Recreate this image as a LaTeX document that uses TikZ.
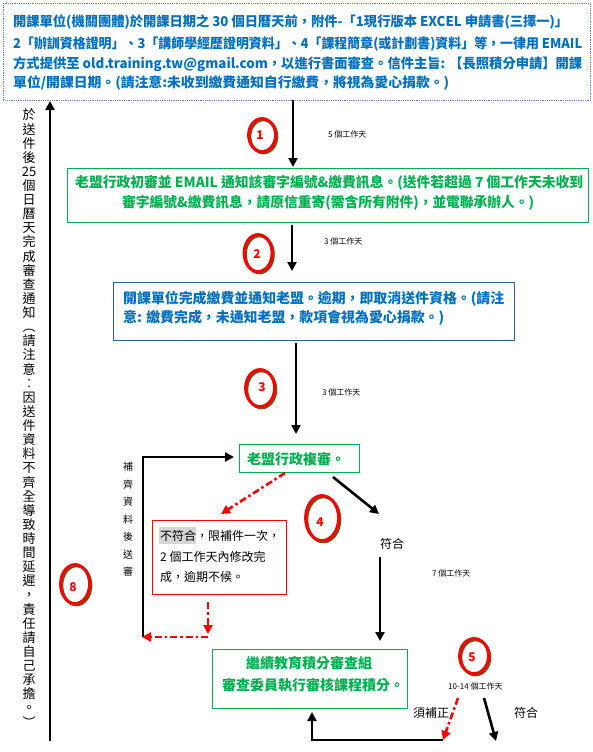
\documentclass[tikz,border=0pt]{standalone}
\usepackage{fontspec}
\usepackage{graphicx}
\setmainfont{Noto Sans CJK TC}
\usetikzlibrary{arrows.meta,shapes.geometric}
\definecolor{tblue}{RGB}{0,112,192}
\definecolor{tgreen}{RGB}{0,176,80}
\definecolor{bblue}{RGB}{56,93,138}
\definecolor{dotblue}{RGB}{95,125,175}
\definecolor{shadowbrown}{RGB}{135,70,25}
\newcommand{\fitw}[2]{\resizebox{#1}{\height}{#2}}
\begin{document}
\begin{tikzpicture}[x=1pt,y=-1pt,
  arr/.style={line width=2.6pt,-{Triangle[length=9pt,width=9pt]}},
  rarr/.style={arr,draw=red,dash pattern=on 7pt off 3pt on 2.5pt off 3pt},
  ring/.style={ellipse,draw=red,line width=2.8pt,inner sep=0pt},
  ringsh/.style={ellipse,draw=shadowbrown,line width=2.8pt,inner sep=0pt},
  num/.style={text=red,font=\fontsize{12}{14}\selectfont\bfseries,inner sep=0pt},
  txt/.style={inner sep=0pt,anchor=west},
  bluetxt/.style={txt,text=tblue,font=\fontsize{13.5}{16}\selectfont\bfseries,text height=11.9pt,text depth=1.6pt},
  greentxt/.style={inner sep=0pt,text=tgreen,font=\fontsize{14}{16}\selectfont\bfseries,text height=12.3pt,text depth=1.7pt},
  blacktxt/.style={txt,font=\fontsize{12}{14}\selectfont,text height=10.6pt,text depth=1.4pt},
  smalltxt/.style={txt,font=\fontsize{8}{10}\selectfont,text height=7pt,text depth=1pt},
  vtxt/.style={inner sep=0pt,font=\fontsize{13}{14}\selectfont,text height=11.4pt,text depth=1.6pt},
  vsmall/.style={inner sep=0pt,font=\fontsize{10}{12}\selectfont,text height=8.8pt,text depth=1.2pt},
  boxnode/.style={anchor=north west,inner sep=0pt,line width=0.8pt}
]
\fill[white] (0,0) rectangle (593,752);
\useasboundingbox (0,0) rectangle (593,752);

% ---------- boxes ----------
\node[boxnode,draw=dotblue,densely dotted,line width=0.7pt,minimum width=587pt,minimum height=97pt] (topbox) at (3,3) {};
\node[boxnode,draw=tgreen,minimum width=521pt,minimum height=54pt] (gbox1) at (67,168) {};
\node[boxnode,draw=bblue,minimum width=401pt,minimum height=58pt] (bbox) at (113,282) {};
\node[boxnode,draw=tgreen,minimum width=120pt,minimum height=28pt] (gbox2) at (239,444) {};
\node[boxnode,draw=red,minimum width=134pt,minimum height=74pt] (rbox) at (152,520) {};
\node[boxnode,draw=tgreen,minimum width=195pt,minimum height=59pt] (gbox3) at (212,649) {};

% ---------- top box text ----------
\node[bluetxt] (t1) at (13,21) {\fitw{555pt}{開課單位(機關團體)於開課日期之 30 個日曆天前，附件-「1現行版本 EXCEL 申請書(三擇一)」}};
\node[bluetxt] (t2) at (13,43) {\fitw{569pt}{2「辦訓資格證明」、3「講師學經歷證明資料」、4「課程簡章(或計劃書)資料」等，一律用 EMAIL}};
\node[bluetxt] (t3) at (13,63) {\fitw{569pt}{方式提供至 old.training.tw@gmail.com，以進行書面審查。信件主旨: 【長照積分申請】開課}};
\node[bluetxt] (t4) at (13,82) {\fitw{436pt}{單位/開課日期。(請注意:未收到繳費通知自行繳費，將視為愛心捐款。)}};

% ---------- green box 1 text ----------
\node[greentxt,anchor=west] (g1) at (75,182) {\fitw{508pt}{老盟行政初審並 EMAIL 通知該審字編號\&繳費訊息。(送件若超過 7 個工作天未收到}};
\node[greentxt,anchor=west] (g2) at (122,202) {\fitw{412pt}{審字編號\&繳費訊息，請原信重寄(需含所有附件)，並電聯承辦人。)}};

% ---------- blue box text ----------
\node[bluetxt,font=\fontsize{14}{16}\selectfont\bfseries] (b1) at (123,298) {\fitw{381pt}{開課單位完成繳費並通知老盟。逾期，即取消送件資格。(請注}};
\node[bluetxt,font=\fontsize{14}{16}\selectfont\bfseries] (b2) at (123,317) {\fitw{321pt}{意: 繳費完成，未通知老盟，款項會視為愛心捐款。)}};

% ---------- green box 2 / 3 text ----------
\node[greentxt,anchor=west] (g3) at (247,459) {老盟行政複審。};
\node[greentxt] (g4) at (309,663) {繼續教育積分審查組};
\node[greentxt,anchor=west] (g5) at (222,685) {審查委員執行審核課程積分。};

% ---------- red box text ----------
\node[boxnode,fill=black!16,line width=0pt,minimum width=37pt,minimum height=17pt] (hl) at (159,527) {};
\node[blacktxt] (r1) at (160,536) {不符合，限補件一次，};
\node[blacktxt] (r2) at (160,557) {2 個工作天內修改完};
\node[blacktxt] (r3) at (160,577) {成，逾期不候。};

% ---------- small labels ----------
\node[smalltxt] (d1) at (328,134) {5 個工作天};
\node[smalltxt] (d2) at (324,241) {3 個工作天};
\node[smalltxt] (d3) at (322,392) {3 個工作天};
\node[smalltxt] (d4) at (432,573) {7 個工作天};
\node[smalltxt] (d5) at (448,686) {10-14 個工作天};
\node[blacktxt] (ok1) at (380,544) {符合};
\node[blacktxt] (fix) at (413,713) {須補正};
\node[blacktxt] (ok2) at (514,713) {符合};

% ---------- vertical texts ----------
\foreach \c [count=\i from 0] in {於,送,件,後,25,個,日,曆,天,完,成,審,查,通,知,︵,請,注,意,︰,因,送,件,資,料,不,齊,全,導,致,時,間,延,遲,，,責,任,請,自,己,承,擔,。,︶}
  \node[vtxt] (v\i) at (29,115+14.12*\i) {\c};
\foreach \c [count=\i from 0] in {補,齊,資,料,後,送,審}
  \node[vsmall] (s\i) at (128,467+17.5*\i) {\c};

% ---------- numbered rings ----------
\foreach \n/\x/\y/\w/\h in {c1/262/135/27/33, c2/258/253/28/37, c3/260/388/29/37, c4/322/518/33/45, c5/474/656/29/35, c8/75/584/29/39}{
  \node[ringsh,minimum width=\w pt,minimum height=\h pt] (\n s) at (\x+1.4,\y+1.4) {};
  \node[ring,minimum width=\w pt,minimum height=\h pt] (\n) at (\x,\y) {};
}
\node[num] (n1) at (260,135) {1};
\node[num] (n2) at (257,254) {2};
\node[num] (n3) at (262,387) {3};
\node[num] (n4) at (320,522) {4};
\node[num] (n5) at (472,657) {5};
\node[num] (n8) at (73,587) {8};

% ---------- connector points ----------
\coordinate (p1a) at (293,100);
\coordinate (p1b) at (293,167);
\coordinate (p2a) at (292,225);
\coordinate (p2b) at (292,271);
\coordinate (p3a) at (296,343);
\coordinate (p3b) at (296,434);
\coordinate (lb) at (143,637);
\coordinate (lt) at (143,457);
\coordinate (lr) at (234,457);
\coordinate (ra) at (285,473);
\coordinate (rb) at (221,514);
\coordinate (rc) at (208,602);
\coordinate (rd) at (208,634);
\coordinate (re) at (208,637);
\coordinate (rf) at (142,637);
\coordinate (ka) at (333,477);
\coordinate (kb) at (379,514);
\coordinate (ma) at (380,557);
\coordinate (mb) at (380,641);
\coordinate (fa) at (458,698);
\coordinate (fb) at (443,740);
\coordinate (ba) at (443,740);
\coordinate (bb) at (312,740);
\coordinate (bc) at (312,712);
\coordinate (oa) at (484,698);
\coordinate (ob) at (496,741);
\coordinate (big1) at (50,741);
\coordinate (big2) at (50,101);

% ---------- connectors ----------
\draw[arr] (p1a) -- (p1b);
\draw[arr] (p2a) -- (p2b);
\draw[arr] (p3a) -- (p3b);
\draw[arr] (lb) -- (lt) -- (lr);
\draw[rarr] (ra) -- (rb);
\draw[rarr] (rc) -- (rd);
\draw[rarr] (re) -- (rf);
\draw[arr] (ka) -- (kb);
\draw[arr] (ma) -- (mb);
\draw[rarr] (fa) -- (fb);
\draw[arr] (ba) -- (bb) -- (bc);
\draw[arr] (oa) -- (ob);
\draw[arr] (big1) -- (big2);
\end{tikzpicture}
\end{document}
